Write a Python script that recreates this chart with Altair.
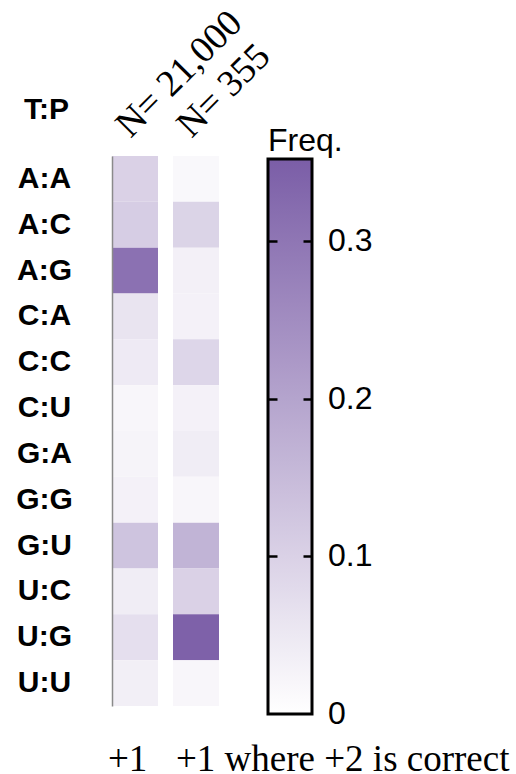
import altair as alt
import pandas as pd

# ---- data ----
pairs = ["A:A", "A:C", "A:G", "C:A", "C:C", "C:U", "G:A", "G:G", "G:U", "U:C", "U:G", "U:U"]
columns = ["+1", "+1 where +2 is correct"]
n_labels = ["N= 21,000", "N= 355"]
freq_plus1 = [0.10, 0.11, 0.31, 0.06, 0.045, 0.02, 0.025, 0.03, 0.13, 0.04, 0.07, 0.035]
freq_plus1_where2 = [0.015, 0.095, 0.033, 0.03, 0.09, 0.03, 0.04, 0.02, 0.165, 0.10, 0.345, 0.02]
legend_values = [0, 0.1, 0.2, 0.3]
color_domain = [0, 0.352]
color_range = ["#ffffff", "#7b5ea7"]

rows = []
for p, a, b in zip(pairs, freq_plus1, freq_plus1_where2):
    rows.append({"pair": p, "col": columns[0], "freq": a})
    rows.append({"pair": p, "col": columns[1], "freq": b})
df = pd.DataFrame(rows)
ndf = pd.DataFrame({"col": columns, "n": n_labels})
tdf = pd.DataFrame({"v": legend_values[1:]})

# colorbar geometry (pixels, relative to plot origin)
plot_w = 107
cb_x = 156
cb_thick = 44
cb_len = 555
cb_title = 32
cb_top = -30 + cb_title + 1
tick_len = 9

x_scale = alt.Scale(domain=columns, paddingInner=0.246, paddingOuter=0)

heat = alt.Chart(df).mark_rect().encode(
    x=alt.X(
        "col:N",
        sort=columns,
        scale=x_scale,
        axis=alt.Axis(
            orient="bottom",
            title=None,
            labelAngle=0,
            labelAlign="left",
            labelBaseline="alphabetic",
            labelOffset={"condition": {"test": "datum.index === 0", "value": -27}, "value": -20},
            ticks=False,
            tickSize=0,
            domain=False,
            labelFont="Liberation Serif",
            labelFontSize=37,
            labelColor="black",
            labelPadding=64,
            labelLimit=500,
            labelOverlap=False,
            labelBound=False,
        ),
    ),
    y=alt.Y(
        "pair:N",
        sort=pairs,
        scale=alt.Scale(domain=pairs, paddingInner=0, paddingOuter=0),
        axis=alt.Axis(
            title="T:P",
            titleAngle=0,
            titleX=-66,
            titleY=-38,
            titleAlign="center",
            titleBaseline="alphabetic",
            titleFont="Liberation Sans",
            titleFontWeight="bold",
            titleFontSize=30,
            titleColor="black",
            labelFont="Liberation Sans",
            labelFontWeight="bold",
            labelFontSize=30,
            labelColor="black",
            labelAlign="center",
            labelPadding=68,
            ticks=False,
            tickSize=0,
            domain=True,
            domainColor="#8a8a8a",
            domainWidth=1.5,
        ),
    ),
    color=alt.Color(
        "freq:Q",
        scale=alt.Scale(domain=color_domain, range=color_range, interpolate="rgb"),
        legend=alt.Legend(
            orient="none",
            legendX=cb_x,
            legendY=-30,
            direction="vertical",
            zindex=0,
            title="Freq.",
            titleFont="Liberation Sans",
            titleFontSize=cb_title,
            titleFontWeight="normal",
            titleColor="black",
            titlePadding=1,
            padding=0,
            gradientLength=cb_len,
            gradientThickness=cb_thick,
            gradientStrokeColor="black",
            gradientStrokeWidth=3,
            values=[max(v, 1e-4) for v in legend_values],
            labelFont="Liberation Sans",
            labelFontSize=32,
            labelColor="black",
            labelOffset=16,
            labelBaseline="middle",
            labelExpr="datum.value < 0.001 ? '0' : format(datum.value, '.1f')",
        ),
    ),
)

ntext = alt.Chart(ndf).mark_text(
    angle=315,
    align="left",
    baseline="alphabetic",
    font="Liberation Serif",
    fontSize=37.5,
    color="black",
).encode(
    x=alt.X("col:N", sort=columns, scale=x_scale, bandPosition=0.4),
    y=alt.value(-17),
    text="n:N",
)


def tick_axis(offset):
    return alt.Axis(
        orient="left",
        offset=offset,
        values=legend_values[1:],
        labels=False,
        domain=False,
        grid=False,
        ticks=True,
        tickSize=tick_len,
        tickWidth=2.5,
        tickColor="black",
        title=None,
        zindex=2,
    )


tick_scale = alt.Scale(domain=color_domain, range=[cb_top + cb_len, cb_top])

ticks_left = alt.Chart(tdf).mark_rule(color="black", strokeWidth=2.5).encode(
    x=alt.value(cb_x),
    x2=alt.value(cb_x + tick_len),
    y=alt.Y("v:Q", scale=tick_scale, axis=tick_axis(-(cb_x + tick_len))),
)
ticks_right = alt.Chart(tdf).mark_rule(color="black", strokeWidth=2.5).encode(
    x=alt.value(cb_x + cb_thick - tick_len),
    x2=alt.value(cb_x + cb_thick),
    y=alt.Y("v:Q", scale=tick_scale, axis=tick_axis(-(cb_x + cb_thick))),
)

chart = alt.layer(heat, ntext, ticks_left, ticks_right).resolve_scale(
    y="independent"
).properties(
    width=plot_w,
    height=550,
    autosize=alt.AutoSizeParams(type="none"),
    padding={"left": 112, "top": 156, "right": 297, "bottom": 68},
    background="white",
).configure_view(stroke=None)

chart.save("out.html", embed_options={"renderer": "svg", "actions": False})
